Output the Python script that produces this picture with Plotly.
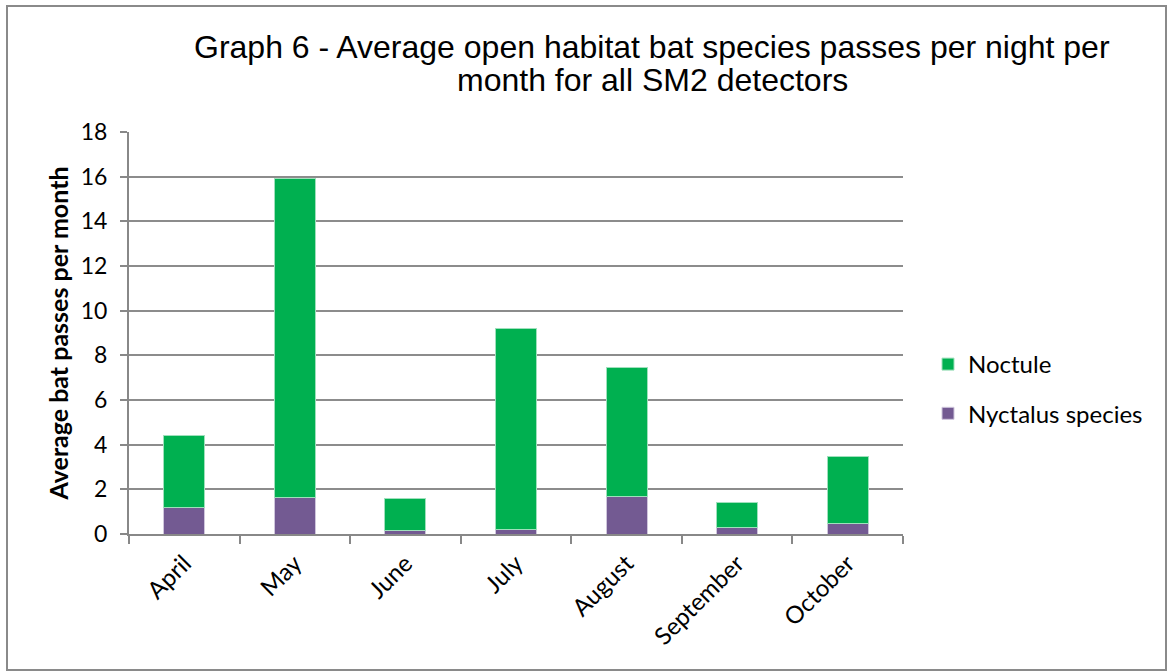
import plotly.graph_objects as go

# Monthly averages (passes per night) by species group
months = ["April", "May", "June", "July", "August", "September", "October"]
nyctalus_species = [1.18, 1.63, 0.17, 0.22, 1.69, 0.28, 0.49]
noctule = [3.24, 14.27, 1.44, 9.00, 5.77, 1.14, 2.96]

title_lines = [
    "Graph 6 - Average open habitat bat species passes per night per",
    "month for all SM2 detectors",
]

W, H = 1168, 671
ML, MR, MT, MB = 129, 265, 132, 137
plot_w = W - ML - MR
plot_h = H - MT - MB
BODY_FONT = "Lato, Carlito, sans-serif"

def px_to_paper_x(px):
    return (px - ML) / plot_w

def px_to_paper_y(py):
    return (H - MB - py) / plot_h

fig = go.Figure()
fig.add_trace(go.Bar(
    x=months, y=nyctalus_species, name="Nyctalus species",
    legendgroup="nyctalus", legendrank=2,
    marker=dict(color="#735A92", line=dict(color="#cfc6dc", width=1)),
))
fig.add_trace(go.Bar(
    x=months, y=noctule, name="Noctule",
    legendgroup="noctule", legendrank=1,
    marker=dict(color="#00B050", line=dict(color="#9fe0bc", width=1)),
))

fig.update_layout(
    width=W, height=H,
    barmode="stack",
    bargap=0.63,
    paper_bgcolor="white",
    plot_bgcolor="white",
    margin=dict(l=ML, r=MR, t=MT, b=MB),
    legend=dict(
        x=px_to_paper_x(928), y=px_to_paper_y(342), xanchor="left", yanchor="top",
        traceorder="grouped",
        font=dict(family=BODY_FONT, size=24, color="black"),
        tracegroupgap=15,
        bgcolor="rgba(0,0,0,0)",
    ),
    showlegend=True,
    font=dict(family=BODY_FONT, color="black"),
)

# Two-line chart title
for line, cy in zip(title_lines, [47, 80]):
    fig.add_annotation(
        text=line, xref="paper", yref="paper",
        x=px_to_paper_x(652), y=px_to_paper_y(cy),
        xanchor="center", yanchor="middle", showarrow=False,
        font=dict(family="Liberation Sans, Arial", size=32, color="black"),
    )

fig.update_xaxes(
    showline=True, linecolor="#888888", linewidth=2,
    ticks="outside", tickson="boundaries", ticklen=8, tickcolor="#888888", tickwidth=2,
    tickangle=-45, tickfont=dict(family=BODY_FONT, size=24, color="black"),
    ticklabelstandoff=4,
    showgrid=False,
)
fig.update_yaxes(
    range=[0, 18], dtick=2,
    showline=True, linecolor="#888888", linewidth=2,
    ticks="outside", ticklen=7, tickcolor="#888888", tickwidth=2,
    ticklabelstandoff=8,
    showgrid=True, gridcolor="#8c8c8c", gridwidth=2,
    tickfont=dict(family=BODY_FONT, size=23, color="black"),
    title=dict(text="<b>Average bat passes per month</b>",
               font=dict(family=BODY_FONT, size=25, color="black"),
               standoff=5),
    zeroline=False,
)

# Chart-area border
fig.add_shape(
    type="rect", xref="paper", yref="paper",
    x0=px_to_paper_x(7), x1=px_to_paper_x(1166),
    y0=px_to_paper_y(670), y1=px_to_paper_y(6),
    line=dict(color="#8a8a8a", width=2), fillcolor="rgba(0,0,0,0)", layer="below",
)

fig.write_html("out.html")
